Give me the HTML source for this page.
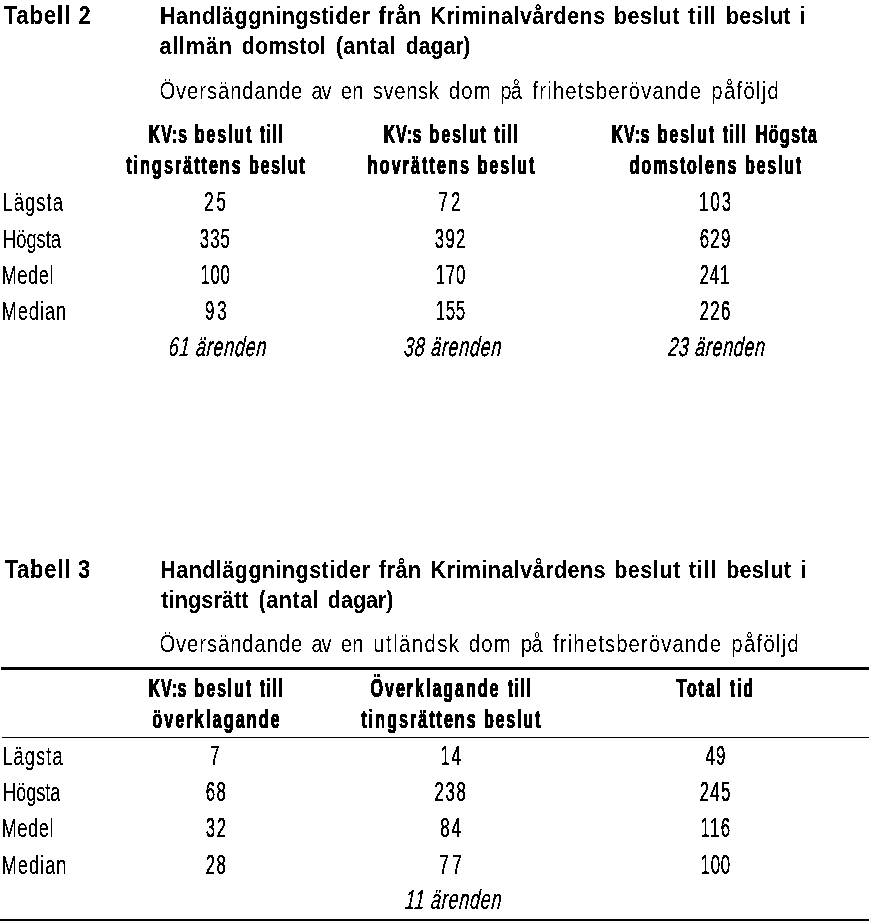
<!DOCTYPE html>
<html lang="sv"><head><meta charset="utf-8"><title>Tabell 2 och Tabell 3</title>
<style>
html,body{margin:0;padding:0;background:#fff;}
body{width:869px;height:921px;overflow:hidden;position:relative;}
svg{position:absolute;left:0;top:0;display:block;}
text{font-family:'Liberation Sans', Arial, sans-serif;fill:#000;}
</style></head><body>
<svg width="869" height="921" viewBox="0 0 869 921">
<rect x="1" y="667" width="868" height="3" fill="#000"/>
<rect x="2" y="737" width="867" height="1" fill="#000"/>
<rect x="0" y="919" width="869" height="2" fill="#000"/>
<defs><filter id="bin" x="0" y="0" width="869" height="921" filterUnits="userSpaceOnUse" color-interpolation-filters="sRGB"><feComponentTransfer><feFuncA type="discrete" tableValues="0 1"/></feComponentTransfer></filter></defs>
<g filter="url(#bin)">
<text transform="translate(3.52 24) scale(0.87 1)" font-size="25.2" font-weight="bold" stroke="#000" stroke-width="0.1" letter-spacing="1.164">Tabell 2</text>
<text transform="translate(0 24) scale(0.87 1)" font-size="24.7" font-weight="bold" stroke="#000" stroke-width="0.1"><tspan x="183.99" letter-spacing="0.547">Handläggningstider</tspan> <tspan x="435.02" letter-spacing="0.667">från</tspan> <tspan x="494.56" letter-spacing="0.536">Kriminalvårdens</tspan> <tspan x="705.68" letter-spacing="0.552">beslut</tspan> <tspan x="790.95" letter-spacing="1.087">till</tspan> <tspan x="834.41" letter-spacing="0.291">beslut</tspan> <tspan x="919.68" letter-spacing="0.000">i</tspan></text>
<text transform="translate(0 54) scale(0.87 1)" font-size="24.7" font-weight="bold" stroke="#000" stroke-width="0.1"><tspan x="183.24" letter-spacing="1.020">allmän</tspan> <tspan x="277.77" letter-spacing="0.143">domstol</tspan> <tspan x="385.81" letter-spacing="0.629">(antal</tspan> <tspan x="466.43" letter-spacing="-0.208">dagar)</tspan></text>
<text transform="translate(0 99) scale(0.87 1)" font-size="23.3" font-weight="normal"><tspan x="183.24" letter-spacing="1.042">Översändande</tspan> <tspan x="357.92" letter-spacing="-1.346">av</tspan> <tspan x="391.54" letter-spacing="0.339">en</tspan> <tspan x="428.59" letter-spacing="0.675">svensk</tspan> <tspan x="515.68" letter-spacing="1.479">dom</tspan> <tspan x="575.10" letter-spacing="-1.126">på</tspan> <tspan x="612.08" letter-spacing="1.349">frihetsberövande</tspan> <tspan x="817.63" letter-spacing="1.490">påföljd</tspan></text>
<text transform="translate(0 143) scale(0.62 1)" font-size="26.0" font-weight="bold" stroke="#000" stroke-width="1.0"><tspan x="239.97" letter-spacing="1.213">KV:s</tspan> <tspan x="314.00" letter-spacing="2.945">beslut</tspan> <tspan x="418.97" letter-spacing="2.478">till</tspan></text>
<text transform="translate(0 143) scale(0.62 1)" font-size="26.0" font-weight="bold" stroke="#000" stroke-width="1.0"><tspan x="618.85" letter-spacing="1.114">KV:s</tspan> <tspan x="692.91" letter-spacing="2.839">beslut</tspan> <tspan x="797.53" letter-spacing="2.520">till</tspan></text>
<text transform="translate(0 143) scale(0.62 1)" font-size="26.0" font-weight="bold" stroke="#000" stroke-width="1.0"><tspan x="986.74" letter-spacing="1.065">KV:s</tspan> <tspan x="1060.78" letter-spacing="2.870">beslut</tspan> <tspan x="1165.55" letter-spacing="2.523">till</tspan> <tspan x="1218.89" letter-spacing="2.127">Högsta</tspan></text>
<text transform="translate(0 174) scale(0.62 1)" font-size="26.0" font-weight="bold" stroke="#000" stroke-width="1.0"><tspan x="203.87" letter-spacing="3.232">tingsrättens</tspan> <tspan x="401.57" letter-spacing="2.619">beslut</tspan></text>
<text transform="translate(0 174) scale(0.62 1)" font-size="26.0" font-weight="bold" stroke="#000" stroke-width="1.0"><tspan x="593.16" letter-spacing="3.372">hovrättens</tspan> <tspan x="770.45" letter-spacing="2.945">beslut</tspan></text>
<text transform="translate(0 174) scale(0.62 1)" font-size="26.0" font-weight="bold" stroke="#000" stroke-width="1.0"><tspan x="1015.41" letter-spacing="2.966">domstolens</tspan> <tspan x="1201.57" letter-spacing="2.796">beslut</tspan></text>
<text transform="translate(2.45 211) scale(0.72 1)" font-size="25.4" font-weight="normal" stroke="#000" stroke-width="0.15" letter-spacing="1.569">Lägsta</text>
<text transform="translate(3.12 248) scale(0.72 1)" font-size="25.4" font-weight="normal" stroke="#000" stroke-width="0.15" letter-spacing="-0.033">Högsta</text>
<text transform="translate(1.49 284) scale(0.72 1)" font-size="25.4" font-weight="normal" stroke="#000" stroke-width="0.15" letter-spacing="0.768">Medel</text>
<text transform="translate(1.49 320) scale(0.72 1)" font-size="25.4" font-weight="normal" stroke="#000" stroke-width="0.15" letter-spacing="1.330">Median</text>
<text transform="translate(168.16 356) skewX(-5) scale(0.66 1)" font-size="27.0" font-weight="normal" font-style="italic" stroke="#000" stroke-width="0.35" letter-spacing="1.276">61 ärenden</text>
<text transform="translate(403.52 356) skewX(-5) scale(0.66 1)" font-size="27.0" font-weight="normal" font-style="italic" stroke="#000" stroke-width="0.35" letter-spacing="1.216">38 ärenden</text>
<text transform="translate(667.66 356) skewX(-5) scale(0.66 1)" font-size="27.0" font-weight="normal" font-style="italic" stroke="#000" stroke-width="0.35" letter-spacing="1.130">23 ärenden</text>
<text transform="translate(4.42 578) scale(0.87 1)" font-size="25.2" font-weight="bold" stroke="#000" stroke-width="0.1" letter-spacing="0.962">Tabell 3</text>
<text transform="translate(0 578) scale(0.87 1)" font-size="24.7" font-weight="bold" stroke="#000" stroke-width="0.1"><tspan x="184.31" letter-spacing="0.544">Handläggningstider</tspan> <tspan x="435.49" letter-spacing="0.606">från</tspan> <tspan x="494.89" letter-spacing="0.547">Kriminalvårdens</tspan> <tspan x="705.99" letter-spacing="0.603">beslut</tspan> <tspan x="791.59" letter-spacing="1.115">till</tspan> <tspan x="834.72" letter-spacing="0.318">beslut</tspan> <tspan x="920.06" letter-spacing="0.000">i</tspan></text>
<text transform="translate(0 608) scale(0.87 1)" font-size="24.7" font-weight="bold" stroke="#000" stroke-width="0.1"><tspan x="185.28" letter-spacing="0.212">tingsrätt</tspan> <tspan x="297.16" letter-spacing="0.692">(antal</tspan> <tspan x="376.83" letter-spacing="0.010">dagar)</tspan></text>
<text transform="translate(0 652) scale(0.87 1)" font-size="23.3" font-weight="normal"><tspan x="183.24" letter-spacing="1.042">Översändande</tspan> <tspan x="357.92" letter-spacing="-1.346">av</tspan> <tspan x="391.54" letter-spacing="0.516">en</tspan> <tspan x="429.15" letter-spacing="1.657">utländsk</tspan> <tspan x="538.67" letter-spacing="1.441">dom</tspan> <tspan x="598.78" letter-spacing="-0.868">på</tspan> <tspan x="635.74" letter-spacing="1.304">frihetsberövande</tspan> <tspan x="840.62" letter-spacing="1.490">påföljd</tspan></text>
<text transform="translate(0 697) scale(0.62 1)" font-size="26.0" font-weight="bold" stroke="#000" stroke-width="1.0"><tspan x="239.86" letter-spacing="1.063">KV:s</tspan> <tspan x="313.91" letter-spacing="2.907">beslut</tspan> <tspan x="418.91" letter-spacing="2.365">till</tspan></text>
<text transform="translate(0 697) scale(0.62 1)" font-size="26.0" font-weight="bold" stroke="#000" stroke-width="1.0"><tspan x="597.66" letter-spacing="3.140">Överklagande</tspan> <tspan x="818.78" letter-spacing="2.120">till</tspan></text>
<text transform="translate(0 697) scale(0.62 1)" font-size="26.0" font-weight="bold" stroke="#000" stroke-width="1.0"><tspan x="1091.18" letter-spacing="2.859">Total</tspan> <tspan x="1176.97" letter-spacing="2.950">tid</tspan></text>
<text transform="translate(152.18 728) scale(0.62 1)" font-size="26.0" font-weight="bold" stroke="#000" stroke-width="1.0" letter-spacing="3.481">överklagande</text>
<text transform="translate(0 728) scale(0.62 1)" font-size="26.0" font-weight="bold" stroke="#000" stroke-width="1.0"><tspan x="583.02" letter-spacing="3.221">tingsrättens</tspan> <tspan x="780.60" letter-spacing="2.851">beslut</tspan></text>
<text transform="translate(2.13 765) scale(0.72 1)" font-size="25.4" font-weight="normal" stroke="#000" stroke-width="0.15" letter-spacing="1.590">Lägsta</text>
<text transform="translate(2.98 801) scale(0.72 1)" font-size="25.4" font-weight="normal" stroke="#000" stroke-width="0.15" letter-spacing="-0.114">Högsta</text>
<text transform="translate(1.49 837) scale(0.72 1)" font-size="25.4" font-weight="normal" stroke="#000" stroke-width="0.15" letter-spacing="0.768">Medel</text>
<text transform="translate(1.49 874) scale(0.72 1)" font-size="25.4" font-weight="normal" stroke="#000" stroke-width="0.15" letter-spacing="1.413">Median</text>
<text transform="translate(404.66 909) skewX(-5) scale(0.66 1)" font-size="27.0" font-weight="normal" font-style="italic" stroke="#000" stroke-width="0.35" letter-spacing="1.246">11 ärenden</text>
<text transform="translate(204.26 211) scale(0.62 1)" font-size="27.2" stroke="#000" stroke-width="0.4" letter-spacing="4.778">25</text>
<text transform="translate(438.47 211) scale(0.62 1)" font-size="27.2" stroke="#000" stroke-width="0.4" letter-spacing="5.172">72</text>
<text transform="translate(699.05 211) scale(0.62 1)" font-size="27.2" stroke="#000" stroke-width="0.4" letter-spacing="3.150">103</text>
<text transform="translate(199.81 248) scale(0.62 1)" font-size="27.2" stroke="#000" stroke-width="0.4" letter-spacing="1.624">335</text>
<text transform="translate(434.74 248) scale(0.62 1)" font-size="27.2" stroke="#000" stroke-width="0.4" letter-spacing="2.031">392</text>
<text transform="translate(699.65 248) scale(0.62 1)" font-size="27.2" stroke="#000" stroke-width="0.4" letter-spacing="2.068">629</text>
<text transform="translate(200.45 284) scale(0.62 1)" font-size="27.2" stroke="#000" stroke-width="0.4" letter-spacing="1.028">100</text>
<text transform="translate(435.69 284) scale(0.62 1)" font-size="27.2" stroke="#000" stroke-width="0.4" letter-spacing="1.186">170</text>
<text transform="translate(699.65 284) scale(0.62 1)" font-size="27.2" stroke="#000" stroke-width="0.4" letter-spacing="1.366">241</text>
<text transform="translate(205.09 320) scale(0.62 1)" font-size="27.2" stroke="#000" stroke-width="0.4" letter-spacing="4.613">93</text>
<text transform="translate(435.69 320) scale(0.62 1)" font-size="27.2" stroke="#000" stroke-width="0.4" letter-spacing="1.119">155</text>
<text transform="translate(699.65 320) scale(0.62 1)" font-size="27.2" stroke="#000" stroke-width="0.4" letter-spacing="2.009">226</text>
<text transform="translate(210.08 765) scale(0.62 1)" font-size="27.2" stroke="#000" stroke-width="0.4" letter-spacing="0.000">7</text>
<text transform="translate(440.44 765) scale(0.62 1)" font-size="27.2" stroke="#000" stroke-width="0.4" letter-spacing="2.813">14</text>
<text transform="translate(705.39 765) scale(0.62 1)" font-size="27.2" stroke="#000" stroke-width="0.4" letter-spacing="1.922">49</text>
<text transform="translate(205.68 801) scale(0.62 1)" font-size="27.2" stroke="#000" stroke-width="0.4" letter-spacing="2.287">68</text>
<text transform="translate(434.47 801) scale(0.62 1)" font-size="27.2" stroke="#000" stroke-width="0.4" letter-spacing="2.708">238</text>
<text transform="translate(699.65 801) scale(0.62 1)" font-size="27.2" stroke="#000" stroke-width="0.4" letter-spacing="2.025">245</text>
<text transform="translate(205.81 837) scale(0.62 1)" font-size="27.2" stroke="#000" stroke-width="0.4" letter-spacing="2.390">32</text>
<text transform="translate(440.37 837) scale(0.62 1)" font-size="27.2" stroke="#000" stroke-width="0.4" letter-spacing="2.915">84</text>
<text transform="translate(700.61 837) scale(0.62 1)" font-size="27.2" stroke="#000" stroke-width="0.4" letter-spacing="2.157">116</text>
<text transform="translate(205.80 874) scale(0.62 1)" font-size="27.2" stroke="#000" stroke-width="0.4" letter-spacing="2.087">28</text>
<text transform="translate(439.14 874) scale(0.62 1)" font-size="27.2" stroke="#000" stroke-width="0.4" letter-spacing="5.879">77</text>
<text transform="translate(700.61 874) scale(0.62 1)" font-size="27.2" stroke="#000" stroke-width="0.4" letter-spacing="1.191">100</text>
</g>
</svg>
</body></html>
